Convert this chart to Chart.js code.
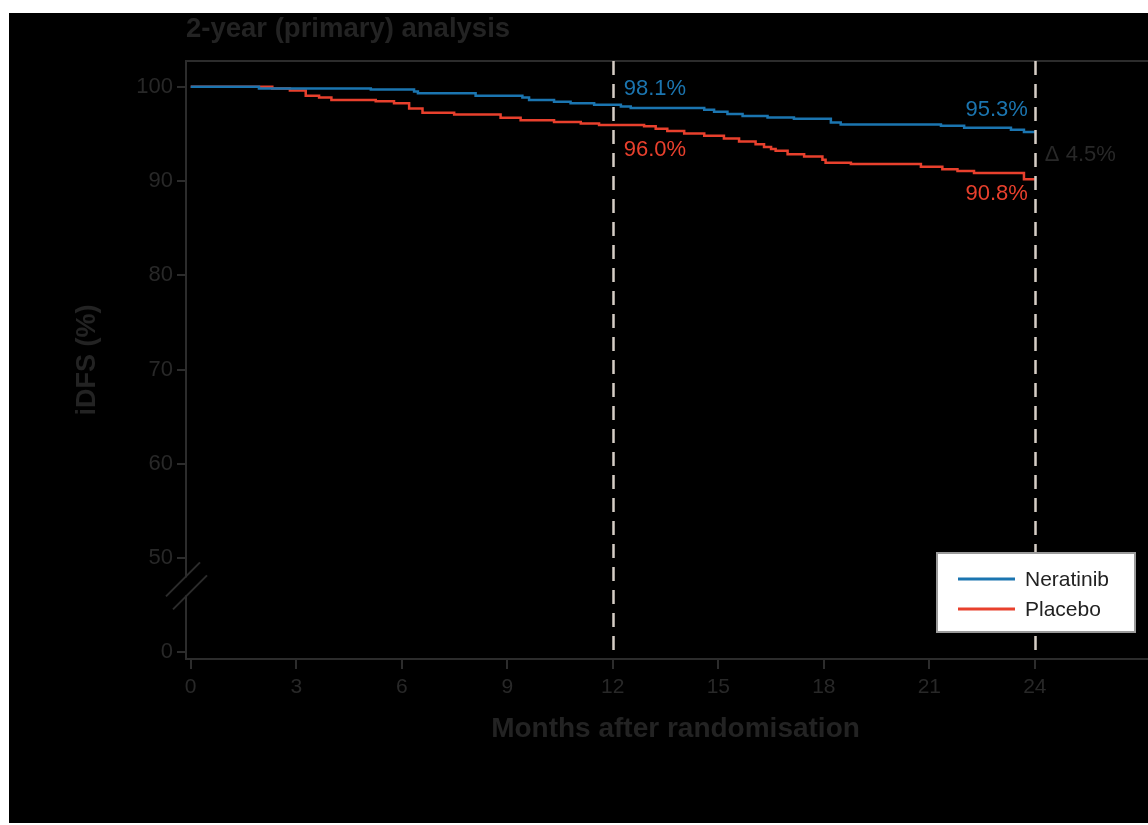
<!DOCTYPE html>
<html>
<head>
<meta charset="utf-8">
<title>iDFS - 2-year (primary) analysis</title>
<script src="https://cdn.jsdelivr.net/npm/chart.js@4.4.1/dist/chart.umd.min.js"></script>
<style>
    html, body { margin: 0; padding: 0; background: #fff; }
    #frame { position: absolute; left: 9px; top: 13px; width: 1139px; height: 810px; background: #000; overflow: hidden; }
    canvas { display: block; }
</style>
</head>
<body>
<div id="frame"><canvas id="kmChart" width="1156" height="810"></canvas></div>
<script>
// Kaplan-Meier steps (months, iDFS %)
const seriesLabels = ['Neratinib', 'Placebo'];
const neratinibMonths = [0, 1.94, 5.12, 6.35, 6.46, 8.10, 9.43, 9.62, 10.33, 10.80, 11.47, 12.23, 12.51, 14.60, 14.88, 15.26, 15.69, 16.40, 17.15, 18.20, 18.48, 21.33, 21.99, 23.32, 23.69, 24.0];
const neratinibIdfs = [100, 99.8, 99.7, 99.5, 99.3, 99.05, 98.85, 98.6, 98.4, 98.25, 98.1, 97.9, 97.75, 97.55, 97.35, 97.1, 96.9, 96.75, 96.6, 96.2, 96.0, 95.85, 95.65, 95.45, 95.2, 95.2];
const placeboMonths = [0, 2.32, 2.82, 3.27, 3.65, 4.00, 5.26, 5.78, 6.21, 6.59, 7.49, 8.81, 9.38, 10.33, 11.09, 11.61, 12.89, 13.22, 13.55, 14.03, 14.60, 15.16, 15.59, 16.06, 16.30, 16.50, 16.63, 16.97, 17.44, 17.96, 18.05, 18.77, 20.76, 21.37, 21.80, 22.27, 23.69, 24.0];
const placeboIdfs = [100, 99.8, 99.6, 99.05, 98.85, 98.6, 98.45, 98.25, 97.7, 97.25, 97.05, 96.7, 96.45, 96.25, 96.1, 95.95, 95.8, 95.55, 95.3, 95.05, 94.8, 94.5, 94.2, 93.9, 93.6, 93.4, 93.22, 92.85, 92.6, 92.25, 91.95, 91.8, 91.5, 91.25, 91.05, 90.85, 90.2, 90.2];

// Landmark estimates
const landmarkMonths = [12, 24];
const landmarkNeratinib = [98.1, 95.3];
const landmarkPlacebo = [96.0, 90.8];
const deltaLabel = '\u0394 4.5%';

// Axis ticks (y axis is broken: the lowest tick stands for 0)
const monthTicks = [0, 3, 6, 9, 12, 15, 18, 21, 24];
const idfsTicks = [40, 50, 60, 70, 80, 90, 100];
const idfsTickLabels = ['0', '50', '60', '70', '80', '90', '100'];

const BLUE = '#1b75b0';
const RED = '#e8402d';
const AXIS = '#2c2c2c';
const TEXT = '#282828';
const DASH = '#d6cec6';
const FONT = '"Liberation Sans", Arial, sans-serif';

Chart.defaults.font.family = FONT;

const toPoints = (xs, ys) => xs.map((x, i) => ({ x: x, y: ys[i] }));

const overlayPlugin = {
    id: 'kmOverlay',
    afterDatasetsDraw(chart) {
        const { ctx, chartArea } = chart;
        const xs = chart.scales.x;
        const ys = chart.scales.y;
        const { left, right, top, bottom } = chartArea;

        ctx.save();

        // top frame line
        ctx.strokeStyle = AXIS;
        ctx.lineWidth = 2;
        ctx.beginPath();
        ctx.moveTo(left, top);
        ctx.lineTo(right, top);
        ctx.stroke();

        // dashed landmark lines
        ctx.strokeStyle = DASH;
        ctx.lineWidth = 2.5;
        ctx.setLineDash([14, 9]);
        landmarkMonths.forEach(m => {
            const x = Math.round(xs.getPixelForValue(m)) + 0.5;
            ctx.beginPath();
            ctx.moveTo(x, top);
            ctx.lineTo(x, bottom);
            ctx.stroke();
        });
        ctx.setLineDash([]);

        // landmark labels
        ctx.font = '22px ' + FONT;
        ctx.textBaseline = 'middle';
        const x12 = xs.getPixelForValue(landmarkMonths[0]);
        const x24 = xs.getPixelForValue(landmarkMonths[1]);
        ctx.textAlign = 'left';
        ctx.fillStyle = BLUE;
        ctx.fillText(landmarkNeratinib[0].toFixed(1) + '%', x12 + 11, ys.getPixelForValue(landmarkNeratinib[0]) - 16);
        ctx.fillStyle = RED;
        ctx.fillText(landmarkPlacebo[0].toFixed(1) + '%', x12 + 11, ys.getPixelForValue(landmarkPlacebo[0]) + 25);
        ctx.textAlign = 'right';
        ctx.fillStyle = BLUE;
        ctx.fillText(landmarkNeratinib[1].toFixed(1) + '%', x24 - 7, ys.getPixelForValue(landmarkNeratinib[1]) - 21);
        ctx.fillStyle = RED;
        ctx.fillText(landmarkPlacebo[1].toFixed(1) + '%', x24 - 7, ys.getPixelForValue(landmarkPlacebo[1]) + 20);
        ctx.textAlign = 'left';
        ctx.fillStyle = TEXT;
        const yMid = (ys.getPixelForValue(landmarkNeratinib[1]) + ys.getPixelForValue(landmarkPlacebo[1])) / 2;
        ctx.fillText(deltaLabel, x24 + 10, yMid + 3);

        // axis break marks
        const cx = left;
        const cy = ys.getPixelForValue(47);
        ctx.fillStyle = '#000';
        ctx.fillRect(cx - 3, cy - 9, 6, 18);
        ctx.strokeStyle = AXIS;
        ctx.lineWidth = 2;
        [[-3, -7], [4, 6]].forEach(([dx, dy]) => {
            const px = cx + dx, py = cy + dy;
            ctx.beginPath();
            ctx.moveTo(px - 17, py + 17);
            ctx.lineTo(px + 17, py - 17);
            ctx.stroke();
        });

        // legend box
        const bx = left + 751, by = bottom - 106, bw = 198, bh = 79;
        ctx.fillStyle = '#fff';
        ctx.fillRect(bx, by, bw, bh);
        ctx.strokeStyle = '#9a9a9a';
        ctx.lineWidth = 2;
        ctx.strokeRect(bx, by, bw, bh);
        ctx.font = '21px ' + FONT;
        ctx.textAlign = 'left';
        ctx.textBaseline = 'middle';
        chart.data.datasets.forEach((ds, i) => {
            const ly = by + 26 + i * 30;
            ctx.strokeStyle = ds.borderColor;
            ctx.lineWidth = 3;
            ctx.beginPath();
            ctx.moveTo(bx + 21, ly);
            ctx.lineTo(bx + 78, ly);
            ctx.stroke();
            ctx.fillStyle = '#222';
            ctx.fillText(ds.label, bx + 88, ly + 1);
        });

        ctx.restore();
    }
};

const ctx = document.getElementById('kmChart').getContext('2d');
const kmChart = new Chart(ctx, {
    type: 'line',
    data: {
        datasets: [{
            label: seriesLabels[0],
            data: toPoints(neratinibMonths, neratinibIdfs),
            borderColor: BLUE,
            borderWidth: 2.5,
            pointRadius: 0,
            stepped: 'before',
            fill: false
        }, {
            label: seriesLabels[1],
            data: toPoints(placeboMonths, placeboIdfs),
            borderColor: RED,
            borderWidth: 2.5,
            pointRadius: 0,
            stepped: 'before',
            fill: false
        }]
    },
    options: {
        responsive: false,
        animation: false,
        events: [],
        layout: { padding: { left: 0, right: 0, top: 0, bottom: 77 } },
        plugins: {
            legend: { display: false },
            tooltip: { enabled: false },
            title: {
                display: true,
                text: '2-year (primary) analysis',
                align: 'start',
                fullSize: false,
                color: '#232323',
                font: { size: 27.5, weight: 'bold' },
                padding: { top: 0, bottom: 15 }
            }
        },
        scales: {
            x: {
                type: 'linear',
                min: -0.134,
                max: 27.7,
                afterBuildTicks: s => { s.ticks = monthTicks.map(v => ({ value: v })); },
                afterFit: s => { s.height = 87; },
                ticks: { color: TEXT, font: { size: 21 }, padding: 6, autoSkip: false, maxRotation: 0 },
                grid: { display: true, drawOnChartArea: false, drawTicks: true, tickLength: 10, color: AXIS, lineWidth: 2 },
                border: { display: true, color: AXIS, width: 2 },
                title: {
                    display: true,
                    text: 'Months after randomisation',
                    color: '#232323',
                    font: { size: 28, weight: 'bold' },
                    padding: { top: 0, bottom: 0 }
                }
            },
            y: {
                type: 'linear',
                min: 39.3,
                max: 102.73,
                afterBuildTicks: s => { s.ticks = idfsTicks.map(v => ({ value: v })); },
                afterFit: s => { s.width = 177; },
                ticks: {
                    color: TEXT,
                    font: { size: 22 },
                    padding: 4,
                    callback: v => idfsTickLabels[idfsTicks.indexOf(v)]
                },
                grid: { display: true, drawOnChartArea: false, drawTicks: true, tickLength: 9, color: AXIS, lineWidth: 2 },
                border: { display: true, color: AXIS, width: 2 },
                title: {
                    display: true,
                    text: 'iDFS (%)',
                    color: '#232323',
                    font: { size: 27, weight: 'bold' },
                    padding: { top: 62, bottom: 0 }
                }
            }
        }
    },
    plugins: [overlayPlugin]
});
</script>
</body>
</html>
